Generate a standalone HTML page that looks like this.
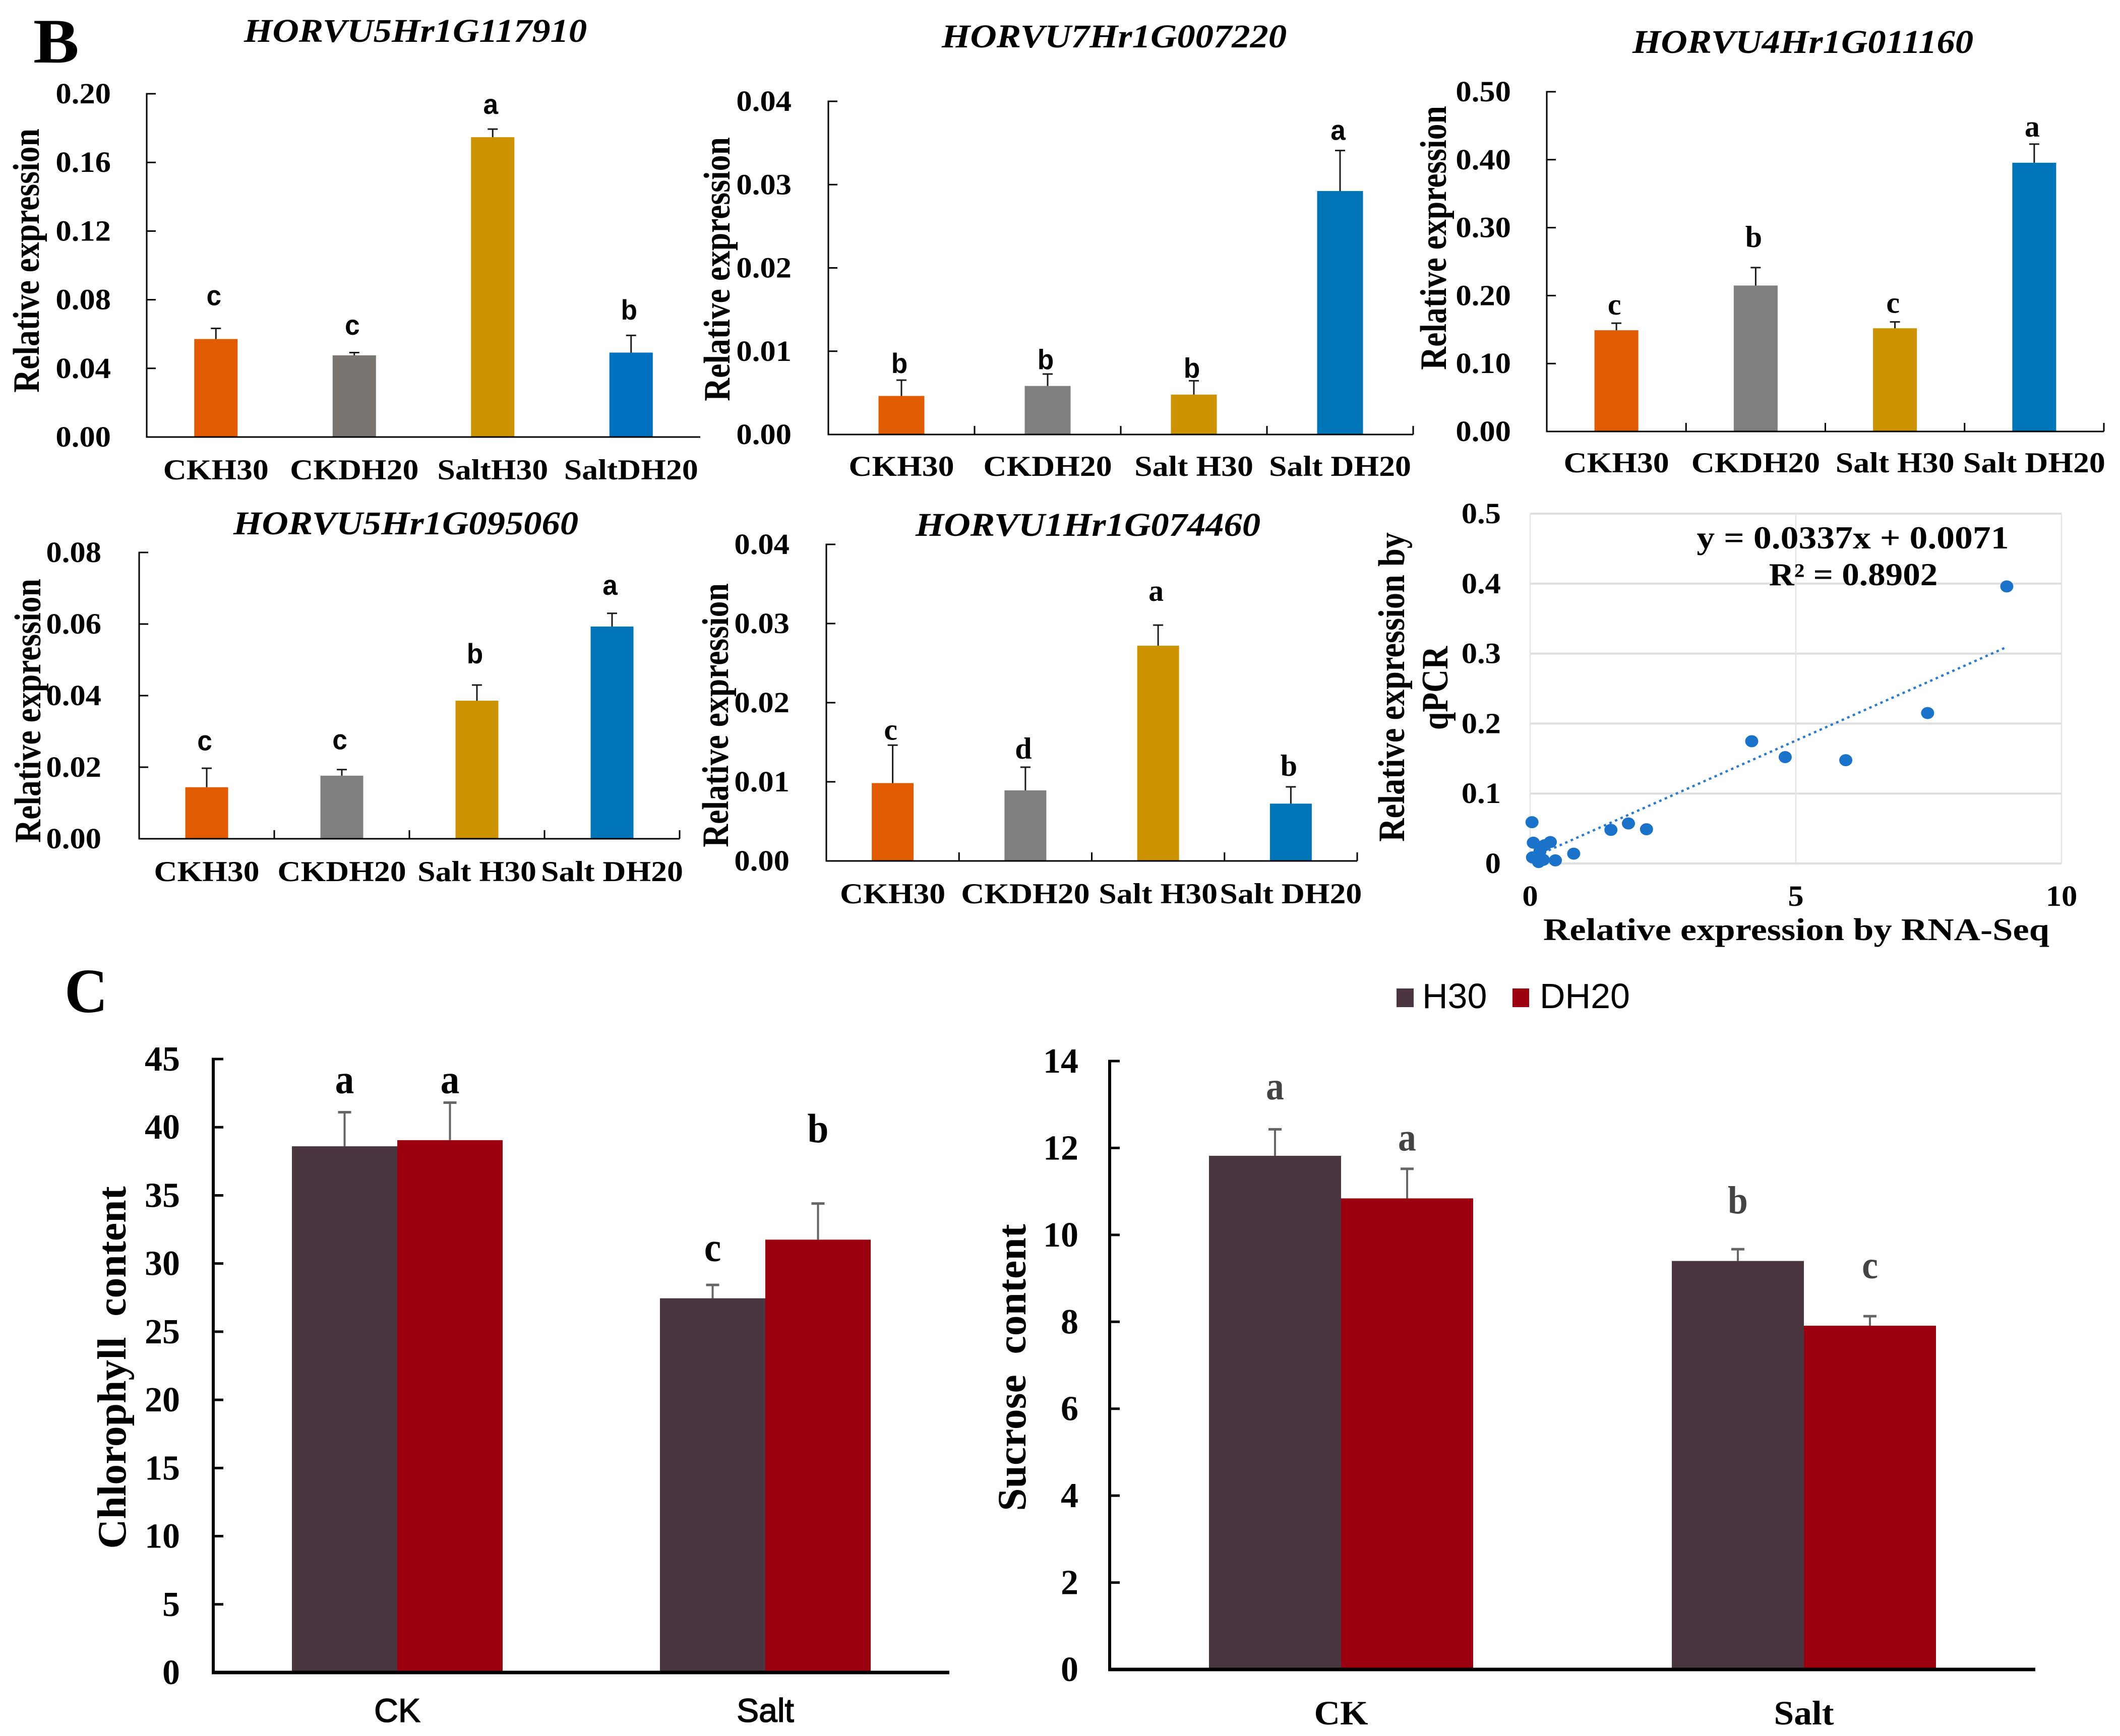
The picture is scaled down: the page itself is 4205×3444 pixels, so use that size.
<!DOCTYPE html>
<html lang="en">
<head>
<meta charset="utf-8">
<title>Relative expression, chlorophyll and sucrose content</title>
<style>
html,body{margin:0;padding:0;background:#fff;}
svg{display:block;}
text{font-family:"Liberation Serif",serif;font-weight:bold;fill:#000;white-space:pre;}
</style>
</head>
<body>
<svg id="figure" xmlns="http://www.w3.org/2000/svg" width="4205" height="3444" viewBox="0 0 4205 3444">
  <rect x="0" y="0" width="4205" height="3444" fill="#ffffff"/>
  <text transform="translate(66,124) scale(1.08,1)" font-size="126">B</text>
  <text transform="translate(128,2008) scale(0.95,1)" font-size="125">C</text>
  <g>
    <rect x="2770" y="1961" width="34" height="37" fill="#4b3540"/>
    <text transform="translate(2821,2000) scale(1.0,1)" font-size="70" style="font-family:'Liberation Sans',sans-serif;font-weight:normal">H30</text>
    <rect x="3000" y="1961" width="33" height="37" fill="#9a0010"/>
    <text transform="translate(3054,2000) scale(1.0,1)" font-size="70" style="font-family:'Liberation Sans',sans-serif;font-weight:normal">DH20</text>
  </g>
</svg>
<script>
// ---------- chart data ----------
const catsNoSpace = ['CKH30','CKDH20','SaltH30','SaltDH20'];
const catsSpaced = ['CKH30','CKDH20','Salt H30','Salt DH20'];
const barColorsA = ['#e15b00','#7a7570','#cc9200','#0070c0'];
const barColors = ['#e15b00','#7f7f7f','#cc9200','#0075b8'];

const gene1Ticks = ['0.00','0.04','0.08','0.12','0.16','0.20'];
const gene1Values = [0.0571,0.0476,0.1747,0.0492];
const gene1ErrorTops = [0.0633,0.0492,0.1794,0.0592];
const gene1Letters = ['c','c','a','b'];
const gene1LetterLevels = [0.0768,0.0596,0.1882,0.0684];

const gene2Ticks = ['0.00','0.01','0.02','0.03','0.04'];
const gene2Values = [0.00463,0.00583,0.00479,0.02923];
const gene2ErrorTops = [0.00653,0.00726,0.00645,0.03409];
const gene2Letters = ['b','b','b','a'];
const gene2LetterLevels = [0.00737,0.00784,0.0068,0.03537];

const gene3Ticks = ['0.00','0.10','0.20','0.30','0.40','0.50'];
const gene3Values = [0.149,0.2148,0.1519,0.3955];
const gene3ErrorTops = [0.1594,0.2412,0.1613,0.4229];
const gene3Letters = ['c','b','c','a'];
const gene3LetterLevels = [0.1722,0.2715,0.1746,0.4338];

const gene4Ticks = ['0.00','0.02','0.04','0.06','0.08'];
const gene4Values = [0.0144,0.01763,0.03858,0.0593];
const gene4ErrorTops = [0.0197,0.01933,0.04295,0.063];
const gene4Letters = ['c','c','b','a'];
const gene4LetterLevels = [0.02475,0.025,0.049,0.0682];

const gene5Ticks = ['0.00','0.01','0.02','0.03','0.04'];
const gene5Values = [0.00984,0.00892,0.0272,0.00724];
const gene5ErrorTops = [0.01463,0.01185,0.0298,0.00936];
const gene5Letters = ['c','d','a','b'];
const gene5LetterLevels = [0.01532,0.01294,0.03287,0.01075];

const scatterXTicks = ['0','5','10'];
const scatterYTicks = ['0','0.1','0.2','0.3','0.4','0.5'];
const scatterX = [8.97,7.48,5.94,4.80,4.17,2.19,1.85,1.52,0.82,0.475,0.035,0.06,0.38,0.27,0.185,0.044,0.13,0.246,0.16];
const scatterY = [0.396,0.215,0.1476,0.152,0.1747,0.0489,0.0572,0.048,0.014,0.0044,0.059,0.0297,0.0306,0.026,0.0175,0.0087,0.0066,0.0052,0.002];
const trendSlope = 0.0337;
const trendIntercept = 0.0071;

const groupCats = ['CK','Salt'];
const seriesNames = ['H30','DH20'];
const seriesColors = ['#4b3540','#9a0010'];

const chlTicks = ['0','5','10','15','20','25','30','35','40','45'];
const chlH30 = [38.6,27.45];
const chlDH20 = [39.05,31.75];
const chlH30ErrorTops = [41.1,28.43];
const chlDH20ErrorTops = [41.8,34.4];
const chlH30Letters = ['a','c'];
const chlDH20Letters = ['a','b'];
const chlH30LetterLevels = [42.5,30.2];
const chlDH20LetterLevels = [42.5,38.9];

const sucTicks = ['0','2','4','6','8','10','12','14'];
const sucH30 = [11.82,9.4];
const sucDH20 = [10.84,7.91];
const sucH30ErrorTops = [12.43,9.67];
const sucDH20ErrorTops = [11.52,8.13];
const sucH30Letters = ['a','b'];
const sucDH20Letters = ['a','c'];
const sucH30LetterLevels = [13.12,10.49];
const sucDH20LetterLevels = [11.94,9.0];

// ---------- drawing helpers ----------
const NS = 'http://www.w3.org/2000/svg';
const root = document.getElementById('figure');

function make(tag, parent, name, attrs) {
  const node = document.createElementNS(NS, tag);
  
  
  for (const k in attrs) node.setAttribute(k, attrs[k]);
  parent.appendChild(node);
  return node;
}
function line(parent, name, x1, y1, x2, y2, color, width, extra) {
  return make('line', parent, name, Object.assign({x1:x1,y1:y1,x2:x2,y2:y2,stroke:color,'stroke-width':width}, extra || {}));
}
function label(parent, name, str, x, y, o) {
  const rot = o.rot ? ' rotate(' + o.rot + ')' : '';
  const node = make('text', parent, name, {
    transform: 'translate(' + x + ',' + y + ')' + rot + ' scale(' + (o.sx || 1) + ',1)',
    'font-size': o.size,
    'text-anchor': o.anchor || 'middle'
  });
  node.style.fontFamily = o.family || '"Liberation Serif",serif';
  node.style.fontWeight = o.weight || 'bold';
  if (o.italic) node.style.fontStyle = 'italic';
  if (o.fill) node.style.fill = o.fill;
  if (o.stroke) {
    node.style.stroke = '#000';
    node.style.strokeWidth = o.stroke;
  }
  node.textContent = str;
  return node;
}
function slug(s) { return String(s).toLowerCase().replace(/[^a-z0-9]+/g, '-'); }

const SANS = '"Liberation Sans",sans-serif';

function geneChart(c) {
  const g = make('g', root, 'chart-' + slug(c.title), {});
  const max = parseFloat(c.ticks[c.ticks.length - 1]);
  const yOf = v => c.bottom - v / max * (c.bottom - c.top);
  const band = (c.right - c.left) / c.cats.length;
  const xOf = i => c.left + (i + 0.5) * band;

  label(g, 'chart-title', c.title, c.titleX, c.titleY, {size:66, sx:1.1, italic:true});
  label(g, 'y-axis-title', 'Relative expression', c.yTitleX, c.yTitleY, {size:74, sx:0.86, rot:-90});

  c.values.forEach((v, i) => {
    const cx = xOf(i);
    make('rect', g, 'bar-' + slug(c.cats[i]), {x:cx - c.barW / 2, y:yOf(v), width:c.barW, height:c.bottom - yOf(v), fill:c.colors[i]});
    line(g, 'error-stem-' + slug(c.cats[i]), cx, yOf(v), cx, yOf(c.errorTops[i]), '#1a1a1a', 3);
    line(g, 'error-cap-' + slug(c.cats[i]), cx - 10, yOf(c.errorTops[i]), cx + 10, yOf(c.errorTops[i]), '#1a1a1a', 3);
    label(g, 'significance-letter-' + slug(c.cats[i]), c.letters[i], cx - 4, yOf(c.letterLevels[i]),
      c.sansLetters ? {size:56, sx:0.95, family:SANS} : {size:60});
    label(g, 'category-label-' + slug(c.cats[i]), c.cats[i], cx, c.catY, {size:57, sx:1.12});
  });

  line(g, 'y-axis-line', c.left, c.top - 1.5, c.left, c.bottom + 1.5, '#000', 3);
  line(g, 'x-axis-line', c.left - 1.5, c.bottom, c.right, c.bottom, '#000', 3);
  c.ticks.forEach(t => {
    const y = yOf(parseFloat(t));
    line(g, 'y-tick-' + slug(t), c.left, y, c.left + 18, y, '#000', 3);
    label(g, 'y-tick-label-' + slug(t), t, c.tickRight, y + 19, {size:58, sx:1.08, anchor:'end'});
  });
  if (c.xTicks) {
    for (let i = 1; i <= c.cats.length; i++) {
      line(g, 'x-tick-' + i, c.left + i * band, c.bottom, c.left + i * band, c.bottom - 17, '#000', 3);
    }
  }
}

function groupedChart(c) {
  const g = make('g', root, 'chart-' + slug(c.title), {});
  const max = parseFloat(c.ticks[c.ticks.length - 1]);
  const yOf = v => c.bottom - v / max * (c.bottom - c.top);
  const band = (c.right - c.left) / c.cats.length;
  const xOf = i => c.left + (i + 0.5) * band;

  label(g, 'y-axis-title', c.title, c.yTitleX, c.yTitleY, {size:80, sx:c.yTitleSx, rot:-90});
  const drawSeries = (name, values, tops, letters, levels, color, dir) => {
    values.forEach((v, i) => {
      const x0 = dir < 0 ? xOf(i) - c.barW : xOf(i);
      const cx = x0 + c.barW / 2;
      const id = slug(c.cats[i]) + '-' + slug(name);
      make('rect', g, 'bar-' + id, {x:x0, y:yOf(v), width:c.barW, height:c.bottom - yOf(v), fill:color});
      line(g, 'error-stem-' + id, cx, yOf(v), cx, yOf(tops[i]), '#666', 4);
      line(g, 'error-cap-' + id, cx - 13, yOf(tops[i]), cx + 13, yOf(tops[i]), '#666', 5);
      label(g, 'significance-letter-' + id, letters[i], cx, yOf(levels[i]), {size:c.letterSize, sx:0.92, fill:c.letterFill});
    });
  };
  drawSeries(seriesNames[0], c.a, c.aTops, c.aLetters, c.aLevels, seriesColors[0], -1);
  drawSeries(seriesNames[1], c.b, c.bTops, c.bLetters, c.bLevels, seriesColors[1], 1);

  line(g, 'y-axis-line', c.left, c.top - 2.5, c.left, c.bottom + 3, '#000', 6);
  line(g, 'x-axis-line', c.left - 3, c.bottom, c.right, c.bottom, '#000', 7);
  c.ticks.forEach(t => {
    const y = yOf(parseFloat(t));
    line(g, 'y-tick-' + slug(t), c.left, y, c.left + 20, y, '#000', 5);
    label(g, 'y-tick-label-' + slug(t), t, c.tickRight, y + 23, {size:70, sx:1.0, anchor:'end'});
  });
  c.cats.forEach((cat, i) => {
    label(g, 'category-label-' + slug(cat), cat, xOf(i), c.catY, c.catStyle);
  });
}

function scatterChart() {
  const L = 3035, R = 4089, T = 1019, B = 1713;
  const g = make('g', root, 'chart-qpcr-vs-rna-seq', {});
  const xMax = parseFloat(scatterXTicks[scatterXTicks.length - 1]);
  const yMax = parseFloat(scatterYTicks[scatterYTicks.length - 1]);
  const xOf = v => L + v / xMax * (R - L);
  const yOf = v => B - v / yMax * (B - T);

  scatterYTicks.forEach(t => {
    const y = yOf(parseFloat(t));
    line(g, 'y-gridline-' + slug(t), L, y, R, y, '#dedede', 4);
    label(g, 'y-tick-label-' + slug(t), t, 2977, y + 19, {size:58, sx:1.08, anchor:'end'});
  });
  scatterXTicks.forEach(t => {
    const x = xOf(parseFloat(t));
    line(g, 'x-gridline-' + slug(t), x, T, x, B, '#e4e4e4', 2.5);
    label(g, 'x-tick-label-' + slug(t), t, x, 1797, {size:58, sx:1.08});
  });

  const minX = Math.min.apply(null, scatterX);
  const maxX = Math.max.apply(null, scatterX);
  line(g, 'trendline', xOf(minX), yOf(trendSlope * minX + trendIntercept), xOf(maxX), yOf(trendSlope * maxX + trendIntercept),
       '#2a7bd0', 4.5, {'stroke-dasharray':'5 7'});

  scatterX.forEach((x, i) => {
    make('ellipse', g, 'data-point-' + (i + 1), {cx:xOf(x), cy:yOf(scatterY[i]), rx:13, ry:12, fill:'#1b73c9'});
  });

  label(g, 'trend-equation', 'y = 0.0337x + 0.0071', 3675, 1088, {size:64, sx:1.12});
  label(g, 'r-squared', 'R\u00B2 = 0.8902', 3676, 1161, {size:64, sx:1.08});
  label(g, 'y-axis-title-line-1', 'Relative expression by', 2785, 1363, {size:74, sx:0.87, rot:-90});
  label(g, 'y-axis-title-line-2', 'qPCR', 2871, 1365, {size:74, sx:0.86, rot:-90});
  label(g, 'x-axis-title', 'Relative expression by RNA-Seq', 3563, 1865, {size:62, sx:1.17});
}

// ---------- render ----------
geneChart({title:'HORVU5Hr1G117910', cats:catsNoSpace, colors:barColorsA, ticks:gene1Ticks, values:gene1Values, errorTops:gene1ErrorTops,
  letters:gene1Letters, letterLevels:gene1LetterLevels, sansLetters:true, xTicks:false,
  left:291, right:1389, top:186, bottom:867, barW:86, tickRight:220, catY:951, titleX:824, titleY:83, yTitleX:77, yTitleY:517});
geneChart({title:'HORVU7Hr1G007220', cats:catsSpaced, colors:barColors, ticks:gene2Ticks, values:gene2Values, errorTops:gene2ErrorTops,
  letters:gene2Letters, letterLevels:gene2LetterLevels, sansLetters:true, xTicks:true,
  left:1643, right:2803, top:201, bottom:862, barW:91, tickRight:1570, catY:944, titleX:2210, titleY:94, yTitleX:1447, yTitleY:534});
geneChart({title:'HORVU4Hr1G011160', cats:catsSpaced, colors:barColors, ticks:gene3Ticks, values:gene3Values, errorTops:gene3ErrorTops,
  letters:gene3Letters, letterLevels:gene3LetterLevels, sansLetters:false, xTicks:true,
  left:3068, right:4173, top:182, bottom:856, barW:87, tickRight:2997, catY:937, titleX:3576, titleY:105, yTitleX:2868, yTitleY:472});
geneChart({title:'HORVU5Hr1G095060', cats:catsSpaced, colors:barColors, ticks:gene4Ticks, values:gene4Values, errorTops:gene4ErrorTops,
  letters:gene4Letters, letterLevels:gene4LetterLevels, sansLetters:true, xTicks:true,
  left:276, right:1348, top:1096, bottom:1664, barW:85, tickRight:201, catY:1748, titleX:805, titleY:1060, yTitleX:80, yTitleY:1410});
geneChart({title:'HORVU1Hr1G074460', cats:catsSpaced, colors:barColors, ticks:gene5Ticks, values:gene5Values, errorTops:gene5ErrorTops,
  letters:gene5Letters, letterLevels:gene5LetterLevels, sansLetters:false, xTicks:true,
  left:1639, right:2692, top:1080, bottom:1708, barW:83, tickRight:1566, catY:1792, titleX:2158, titleY:1063, yTitleX:1444, yTitleY:1419});
scatterChart();
groupedChart({title:'Chlorophyll  content', cats:groupCats, ticks:chlTicks, a:chlH30, b:chlDH20, aTops:chlH30ErrorTops, bTops:chlDH20ErrorTops,
  aLetters:chlH30Letters, bLetters:chlDH20Letters, aLevels:chlH30LetterLevels, bLevels:chlDH20LetterLevels,
  left:423, right:1883, top:2101, bottom:3318, barW:209, tickRight:357, catY:3416, yTitleX:249, yTitleY:2713, yTitleSx:1.02,
  letterSize:82, letterFill:'#000', catStyle:{size:66, sx:1.0, family:SANS, weight:'normal', stroke:1.5}});
groupedChart({title:'Sucrose  content', cats:groupCats, ticks:sucTicks, a:sucH30, b:sucDH20, aTops:sucH30ErrorTops, bTops:sucDH20ErrorTops,
  aLetters:sucH30Letters, bLetters:sucDH20Letters, aLevels:sucH30LetterLevels, bLevels:sucDH20LetterLevels,
  left:2201, right:4037, top:2105, bottom:3312, barW:262, tickRight:2139, catY:3421, yTitleX:2034, yTitleY:2713, yTitleSx:1.02,
  letterSize:78, letterFill:'#444', catStyle:{size:68, sx:1.05}});
</script>
</body>
</html>
